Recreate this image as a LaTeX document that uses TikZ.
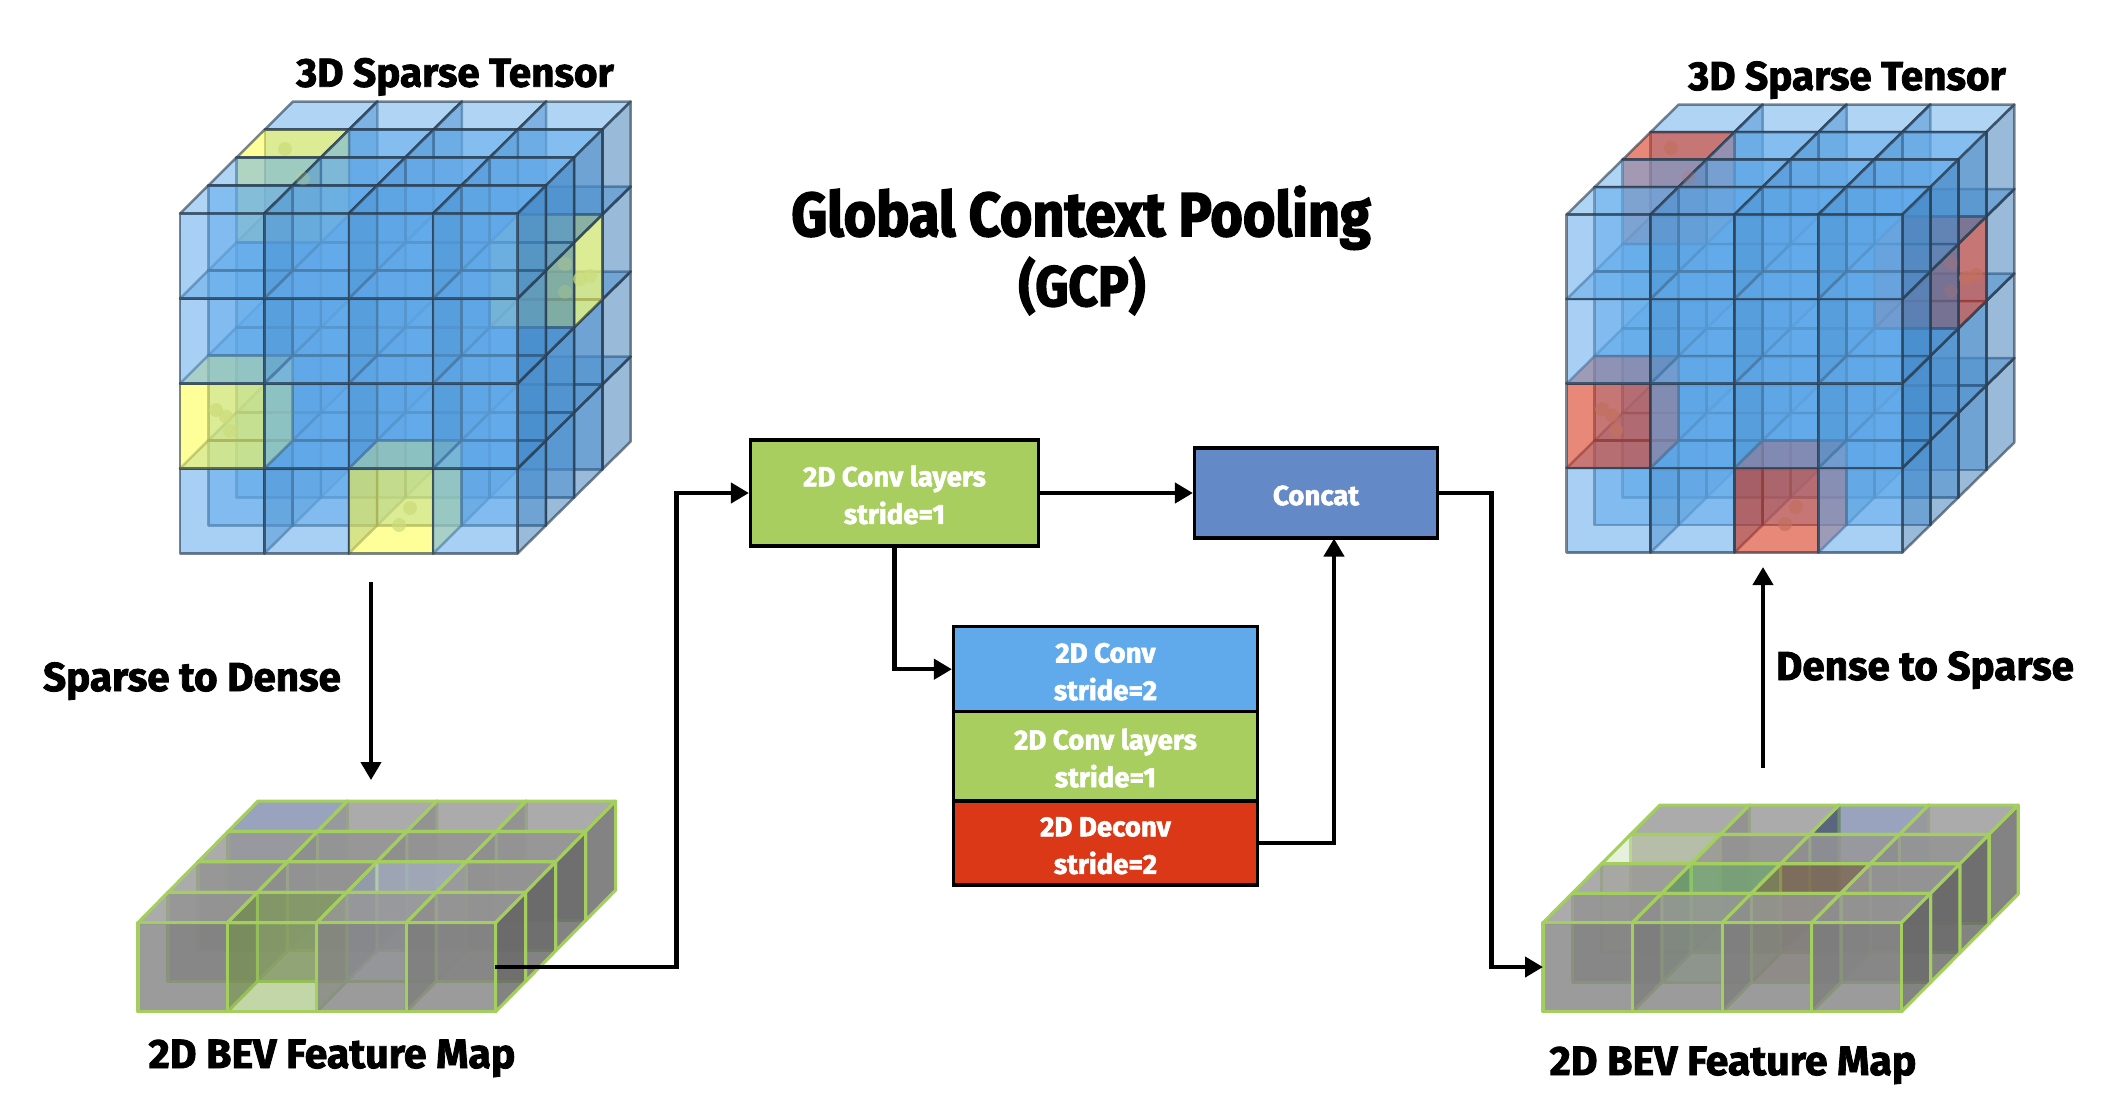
\documentclass[tikz,border=0pt]{standalone}
\usepackage{fontspec}
\usetikzlibrary{arrows.meta}
\setmainfont{Fira Sans}[BoldFeatures={FakeBold=2}]
\newfontfamily\ttlfont{Fira Sans}[FakeStretch=.9,BoldFeatures={FakeBold=2.4}]
\definecolor{cubeblue}{HTML}{62ABEB}
\definecolor{cubeside}{HTML}{3577B5}
\definecolor{cubeline}{HTML}{2A3D50}
\definecolor{hlyellow}{HTML}{FFFF55}
\definecolor{hlred}{HTML}{D93A21}
\definecolor{bevfront}{HTML}{838383}
\definecolor{bevtop}{HTML}{979797}
\definecolor{bevside}{HTML}{646464}
\definecolor{bevline}{HTML}{A4CF5F}
\definecolor{hlblue}{HTML}{37487C}
\definecolor{hlsky}{HTML}{BCCCEC}
\definecolor{hlgreen}{HTML}{88AE52}
\definecolor{hlpale}{HTML}{D1E2BA}
\definecolor{hlmint}{HTML}{70BC70}
\definecolor{hlbrown}{HTML}{7C5C3A}
\definecolor{boxgreen}{HTML}{A7CE5E}
\definecolor{boxblue}{HTML}{60AAEC}
\definecolor{boxconcat}{HTML}{6389C6}
\definecolor{boxred}{HTML}{DA3817}
\definecolor{ballyellow}{HTML}{CBDC7A}
\definecolor{ballred}{HTML}{C4705F}
\newcommand{\sethl}[2]{\expandafter\def\csname hl#1\endcsname{#2}}
\newcommand{\tstrut}{\rule{0pt}{12.3pt}}
\newcommand{\cellblock}[7]{%
  \foreach \d in {3,2,1,0}{\foreach \y in {0,...,#7}{\foreach \x in {0,1,2,3}{%
    \pgfmathsetmacro\Xa{#1+\x*#3+\d*#5}%
    \pgfmathsetmacro\Ya{#2-\y*#4-\d*#6}%
    \pgfmathsetmacro\Xb{\Xa+#3}%
    \pgfmathsetmacro\Yb{\Ya-#4}%
    \pgfmathsetmacro\Xc{\Xb+#5}%
    \pgfmathsetmacro\Xd{\Xa+#5}%
    \pgfmathsetmacro\Yc{\Ya-#6}%
    \pgfmathsetmacro\Yd{\Yb-#6}%
    \ifcsname hl\x\y\d\endcsname
      \edef\hlcol{\csname hl\x\y\d\endcsname}%
      \tikzset{ftop/.append style={hlface},fright/.append style={hlface},ffront/.append style={hlface}}%
    \fi
    \filldraw[ftop] (\Xa,\Yb)--(\Xb,\Yb)--(\Xc,\Yd)--(\Xd,\Yd)--cycle;
    \filldraw[fright] (\Xb,\Ya)--(\Xc,\Yc)--(\Xc,\Yd)--(\Xb,\Yb)--cycle;
    \filldraw[ffront] (\Xa,\Ya)--(\Xb,\Ya)--(\Xb,\Yb)--(\Xa,\Yb)--cycle;
  }}}%
}
\newcommand{\cubeballs}[1]{%
  \foreach \px/\py in {303/178.4,565/264,565/292}{\fill[#1,fill opacity=.22] (\px,\py) circle[radius=7];}
  \foreach \px/\py in {285/149,580/279,590/276,216/410,226/416.5,230/431,410/508,399/525}{\fill[#1,fill opacity=.7] (\px,\py) circle[radius=7];}
}
\tikzset{
  hlface/.style={fill=\hlcol,fill opacity=\hlop},
  cubestyle/.style={
    ftop/.style={fill=cubeblue,fill opacity=.5,draw=cubeline,draw opacity=.62,line width=1.25pt,line join=round},
    fright/.style={fill=cubeside,fill opacity=.5,draw=cubeline,draw opacity=.62,line width=1.25pt,line join=round},
    ffront/.style={fill=cubeblue,fill opacity=.55,draw=cubeline,draw opacity=.62,line width=1.25pt,line join=round}},
  bevstyle/.style={
    ftop/.style={fill=bevtop,fill opacity=.8,draw=bevline,line width=1.55pt,line join=round},
    fright/.style={fill=bevside,fill opacity=.8,draw=bevline,line width=1.55pt,line join=round},
    ffront/.style={fill=bevfront,fill opacity=.8,draw=bevline,line width=1.55pt,line join=round}},
  lbl/.style={font=\fontsize{20.2}{24}\selectfont\bfseries,text=black,inner sep=0pt,anchor=base},
  bevlbl/.style={lbl,font=\fontsize{20.5}{24}\selectfont\bfseries},
  ttl/.style={font=\ttlfont\fontsize{31}{36}\selectfont\bfseries,text=black,inner sep=0pt,anchor=base},
  subttl/.style={ttl,font=\ttlfont\fontsize{28.5}{34}\selectfont\bfseries},
  opbox/.style={draw=black,line width=1.6pt,font=\fontsize{13.8}{18.8}\selectfont\bfseries,text=white,align=center,inner sep=0pt},
  arr/.style={draw=black,line width=2.1pt,-{Triangle[length=9pt,width=10pt]}},
}
\begin{document}
\begin{tikzpicture}[x=.5pt,y=-.5pt]
\useasboundingbox (0,0) rectangle (2114,1116);
\fill[white] (0,0) rectangle (2114,1116);
% left cube
\begin{scope}[cubestyle]
\def\hlop{.6}
\sethl{010}{hlyellow}\sethl{200}{hlyellow}\sethl{032}{hlyellow}\sethl{322}{hlyellow}
\cellblock{180}{553.5}{84.4}{85}{28.25}{28}{3}
\cubeballs{ballyellow}
\end{scope}
% right cube
\begin{scope}[cubestyle]
\def\hlop{.6}
\sethl{010}{hlred}\sethl{200}{hlred}\sethl{032}{hlred}\sethl{322}{hlred}
\cellblock{1566.7}{552.5}{83.9}{84.5}{28}{27.5}{3}
\begin{scope}[shift={(1386,-1)}]
\cubeballs{ballred}
\end{scope}
\end{scope}
% left BEV
\begin{scope}[bevstyle]
\def\hlop{.5}
\sethl{003}{hlblue}\sethl{201}{hlsky}\sethl{100}{hlgreen}
\cellblock{138}{1011.7}{89.4}{89}{30}{30.4}{0}
\end{scope}
% right BEV
\begin{scope}[bevstyle]
\def\hlop{.5}
\sethl{203}{hlblue}\sethl{002}{hlpale}\sethl{101}{hlmint}\sethl{201}{hlbrown}
\cellblock{1543}{1011.7}{89.6}{89}{29.2}{29.4}{0}
\end{scope}
% labels
\node[lbl] (lcube) at (455,86.7) {3D Sparse Tensor};
\node[lbl] (rcube) at (1847,90) {3D Sparse Tensor};
\node[bevlbl] (lbev) at (332,1068) {2D BEV Feature Map};
\node[bevlbl] (rbev) at (1733,1075) {2D BEV Feature Map};
\node[lbl] (s2d) at (192,691) {Sparse to Dense};
\node[lbl] (d2s) at (1925,680) {Dense to Sparse};
\node[ttl] (title) at (1081,236) {Global Context Pooling};
\node[subttl] (gcp) at (1082,306) {(GCP)};
% boxes
\node[opbox,fill=boxgreen,minimum width=144pt,minimum height=53pt] (conv1) at (894.5,493) {\tstrut 2D Conv layers\\stride=1};
\node[opbox,fill=boxconcat,minimum width=121.5pt,minimum height=45pt] (concat) at (1316,493) {\tstrut Concat};
\node[opbox,fill=boxblue,minimum width=152pt,minimum height=42.5pt] (sconv) at (1105.5,669.2) {\tstrut 2D Conv\\stride=2};
\node[opbox,fill=boxgreen,minimum width=152pt,minimum height=44.5pt] (slay) at (1105.5,756.2) {\tstrut 2D Conv layers\\stride=1};
\node[opbox,fill=boxred,minimum width=152pt,minimum height=42pt] (sdec) at (1105.5,843) {\tstrut 2D Deconv\\stride=2};
% connector end points
\coordinate (bevLout) at (495,967);
\coordinate (bevRin) at (1543,967);
\coordinate (turnA) at (676.5,967);
\coordinate (turnE) at (1491.5,967);
\coordinate (concatIn) at (1334,538.5);
\coordinate (s2dFrom) at (371,582);
\coordinate (s2dTo) at (371,780);
\coordinate (d2sFrom) at (1763,768);
\coordinate (d2sTo) at (1763,567);
% connectors
\draw[arr] (bevLout) -- (turnA) |- (conv1.west);
\draw[arr] (conv1.east) -- (concat.west);
\draw[arr] (conv1.south) |- (sconv.west);
\draw[arr] (sdec.east) -| (concatIn);
\draw[arr] (concat.east) -| (turnE) -- (bevRin);
\draw[arr] (s2dFrom) -- (s2dTo);
\draw[arr] (d2sFrom) -- (d2sTo);
\end{tikzpicture}
\end{document}
